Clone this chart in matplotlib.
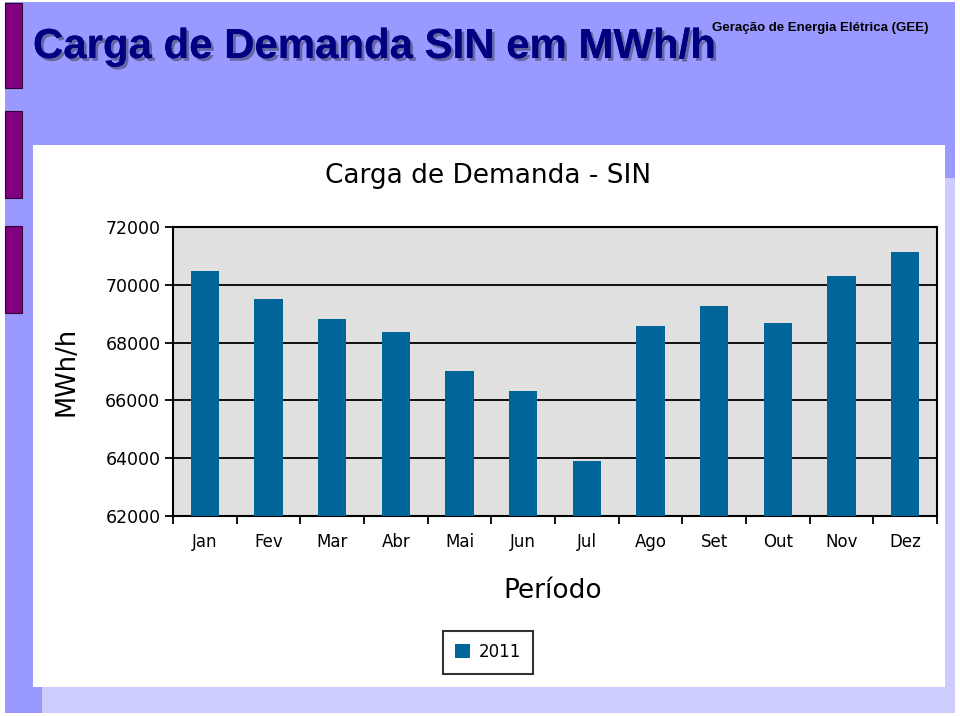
import matplotlib
matplotlib.use("Agg")
import matplotlib.pyplot as plt
import matplotlib.patches as mpatches
import matplotlib.patheffects as pe
import numpy as np

months = ["Jan", "Fev", "Mar", "Abr", "Mai", "Jun", "Jul", "Ago", "Set", "Out", "Nov", "Dez"]
carga_2011 = [70480, 69510, 68820, 68370, 67020, 66330, 63900, 68570, 69270, 68680, 70300, 71140]
yticks = [62000, 64000, 66000, 68000, 70000, 72000]
series_label = "2011"

W, H = 960, 716
fig = plt.figure(figsize=(W / 100, H / 100), dpi=100)
fig.patch.set_facecolor("white")

def rect(x0, y0, x1, y1, **kw):
    r = mpatches.Rectangle((x0 / W, 1 - y1 / H), (x1 - x0) / W, (y1 - y0) / H,
                           transform=fig.transFigure, **kw)
    fig.patches.append(r)

# slide background
rect(5, 2, 955, 713, facecolor="#9999FF", edgecolor="none", zorder=0)
rect(42, 178, 955, 713, facecolor="#CCCCFF", edgecolor="none", zorder=1)
rect(33, 145, 945, 687, facecolor="white", edgecolor="none", zorder=2)
# purple side bars
for y0, y1 in [(3, 88), (111, 198), (226, 313)]:
    rect(5, y0, 22, y1, facecolor="#800080", edgecolor="#330033", linewidth=0.8, zorder=3)

# slide title
fig.text(33 / W, 1 - 47 / H, "Carga de Demanda SIN em MWh/h", fontsize=30.2,
         fontweight="bold", color="#000080", family="Liberation Sans",
         va="center", ha="left",
         path_effects=[pe.withSimplePatchShadow(offset=(2, -2), shadow_rgbFace="#444466", alpha=0.6),
                       pe.Normal()])
fig.text(928 / W, 1 - 28 / H, "Geração de Energia Elétrica (GEE)", fontsize=9.5,
         fontweight="bold", color="black", family="Liberation Sans",
         va="center", ha="right")

# chart axes
ax = fig.add_axes([173 / W, 1 - 516 / H, (937 - 173) / W, (516 - 227) / H], zorder=5)
ax.set_facecolor("#E0E0E0")
x = np.arange(len(months))
ax.bar(x, carga_2011, width=0.44, color="#006699", zorder=3, label=series_label)
ax.set_xlim(-0.5, len(months) - 0.5)
ax.set_ylim(62000, 72000)
ax.set_yticks(yticks)
ax.set_yticklabels([str(v) for v in yticks], fontsize=12.5, family="DejaVu Sans")
ax.yaxis.grid(True, color="black", linewidth=1.3, zorder=1)
ax.set_axisbelow(True)
ax.set_xticks(x)
ax.set_xticklabels(months, fontsize=12, family="DejaVu Sans")
ax.tick_params(axis="x", which="major", length=0, pad=12)
ax.set_xticks(np.arange(-0.5, len(months)), minor=True)
ax.tick_params(axis="x", which="minor", length=6, width=1.3, direction="out")
ax.tick_params(axis="y", length=6, width=1.3, direction="out", pad=3)
for s in ax.spines.values():
    s.set_linewidth(1.5)
    s.set_color("black")

fig.text(488 / W, 1 - 176 / H, "Carga de Demanda - SIN", fontsize=19,
         family="DejaVu Sans", ha="center", va="center", zorder=6)
fig.text(66 / W, 1 - 371 / H, "MWh/h", fontsize=18.5, rotation=90,
         family="DejaVu Sans", ha="center", va="center", zorder=6)
fig.text(553 / W, 1 - 591 / H, "Período", fontsize=19,
         family="DejaVu Sans", ha="center", va="center", zorder=6)

leg = ax.legend(loc="center", bbox_to_anchor=((488 - 173) / (937 - 173), (516 - 652) / (516 - 227)),
                bbox_transform=ax.transAxes, frameon=True, fancybox=False,
                prop={"family": "DejaVu Sans", "size": 12}, handlelength=0.9,
                handleheight=0.9, handletextpad=0.5, borderpad=0.75)
leg.get_frame().set_edgecolor("black")
leg.get_frame().set_linewidth(1.5)

fig.savefig("out.png", dpi=100)
